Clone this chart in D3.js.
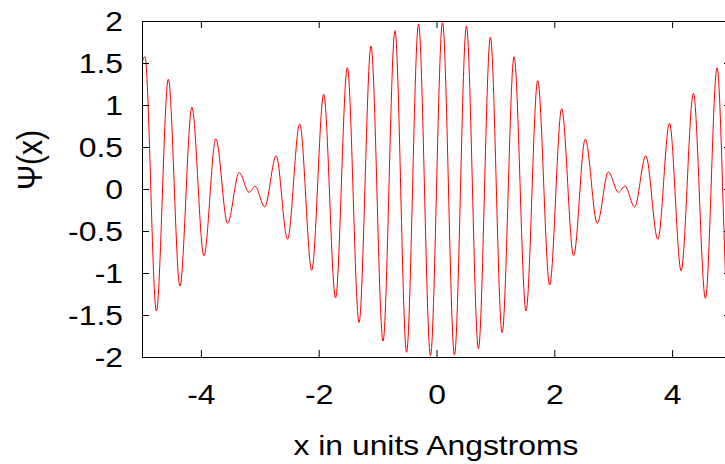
<!DOCTYPE html>
<html>
<head>
<meta charset="utf-8">
<script src="https://cdn.jsdelivr.net/npm/d3@7"></script>
<style>
body { margin: 0; background: #fff; }
svg text { font-family: "Liberation Sans", Arial, sans-serif; fill: #000; }
</style>
</head>
<body>
<div id="chart"></div>
<script>
// turning points of the wave (x in Angstroms, psi)
var pointX = [-5.00, -4.950, -4.756, -4.553, -4.356, -4.153, -3.949, -3.746, -3.547, -3.350,
    -3.183, -3.080, -2.917, -2.722, -2.530, -2.322, -2.118, -1.915, -1.714, -1.514,
    -1.315, -1.112, -0.908, -0.705, -0.508, -0.305, -0.102, 0.102, 0.305, 0.508,
    0.712, 0.915, 1.114, 1.317, 1.520, 1.718, 1.921, 2.125, 2.328, 2.526,
    2.729, 2.918, 3.090, 3.200, 3.363, 3.554, 3.758, 3.956, 4.153, 4.362,
    4.566, 4.763, 4.960, 5.00];
var pointY = [1.50, 1.575, -1.452, 1.306, -1.155, 0.972, -0.794, 0.599, -0.409, 0.196,
    -0.040, 0.032, -0.214, 0.396, -0.599, 0.774, -0.968, 1.127, -1.298, 1.444,
    -1.590, 1.702, -1.810, 1.885, -1.944, 1.964, -1.984, 1.980, -1.976, 1.940,
    -1.900, 1.806, -1.710, 1.575, -1.452, 1.290, -1.143, 0.956, -0.794, 0.595,
    -0.409, 0.203, -0.040, 0.036, -0.214, 0.396, -0.599, 0.782, -0.972, 1.139,
    -1.302, 1.444, -1.575, -1.50];

var xTicks = [-4, -2, 0, 2, 4];
var yTicks = [-2, -1.5, -1, -0.5, 0, 0.5, 1, 1.5, 2];
var xTitle = "x in units Angstroms";
var yTitle = "\u03A8(x)";

var width = 725, height = 464;
var plotLeft = 142, plotRight = 731, plotTop = 21, plotBottom = 357;
var tickLen = 7;
var fontSize = 27;
var stretch = 1.18;   // the original text is a bit wider than plain Arial

var svg = d3.select("#chart").append("svg")
    .attr("width", width)
    .attr("height", height);

var xScale = d3.scaleLinear().domain([-5, 5]).range([plotLeft, plotRight]);
var yScale = d3.scaleLinear().domain([-2, 2]).range([plotBottom, plotTop]);

svg.append("clipPath").attr("id", "plot-clip")
    .append("rect")
    .attr("x", plotLeft).attr("y", plotTop)
    .attr("width", plotRight - plotLeft).attr("height", plotBottom - plotTop);

// the curve
var data = pointX.map(function (x, i) { return [x, pointY[i]]; });
var line = d3.line()
    .x(function (d) { return xScale(d[0]); })
    .y(function (d) { return yScale(d[1]); })
    .curve(d3.curveMonotoneX);

svg.append("path")
    .datum(data)
    .attr("clip-path", "url(#plot-clip)")
    .attr("d", line)
    .attr("fill", "none")
    .attr("stroke", "#ff0000")
    .attr("stroke-width", 1);

// plain hyphen for negatives, like the original
var fmt = function (d) { return String(d); };

// ticks on all four sides, pointing inwards
var bottomAxis = svg.append("g")
    .attr("transform", "translate(0," + plotBottom + ")")
    .call(d3.axisBottom(xScale).tickValues(xTicks).tickSizeInner(-tickLen).tickSizeOuter(0).tickFormat(fmt));
var topAxis = svg.append("g")
    .attr("transform", "translate(0," + plotTop + ")")
    .call(d3.axisTop(xScale).tickValues(xTicks).tickSizeInner(-tickLen).tickSizeOuter(0).tickFormat(""));
var leftAxis = svg.append("g")
    .attr("transform", "translate(" + plotLeft + ",0)")
    .call(d3.axisLeft(yScale).tickValues(yTicks).tickSizeInner(-tickLen).tickSizeOuter(0).tickFormat(fmt));
var rightAxis = svg.append("g")
    .attr("transform", "translate(" + plotRight + ",0)")
    .call(d3.axisRight(yScale).tickValues(yTicks).tickSizeInner(-tickLen).tickSizeOuter(0).tickFormat(""));

svg.selectAll(".domain").remove();
svg.selectAll(".tick line").attr("stroke", "#000");

bottomAxis.selectAll("text")
    .attr("font-size", fontSize)
    .attr("font-family", null)
    .attr("y", 47)
    .attr("dy", "0em")
    .attr("transform", "scale(" + stretch + ",1)");

leftAxis.selectAll("text")
    .attr("font-size", fontSize)
    .attr("font-family", null)
    .attr("x", -19 / stretch)
    .attr("dy", "0.36em")
    .attr("transform", "scale(" + stretch + ",1)");

// frame
svg.append("rect")
    .attr("x", plotLeft + 0.5).attr("y", plotTop + 0.5)
    .attr("width", plotRight - plotLeft).attr("height", plotBottom - plotTop)
    .attr("fill", "none")
    .attr("stroke", "#000")
    .attr("stroke-width", 1);

// axis titles
svg.append("text")
    .attr("transform", "translate(436,455) scale(" + stretch + ",1)")
    .attr("text-anchor", "middle")
    .attr("font-size", fontSize)
    .text(xTitle);

svg.append("text")
    .attr("transform", "translate(42,160) scale(" + stretch + ",1) rotate(-90)")
    .attr("text-anchor", "middle")
    .attr("font-size", 30)
    .text(yTitle);
</script>
</body>
</html>
